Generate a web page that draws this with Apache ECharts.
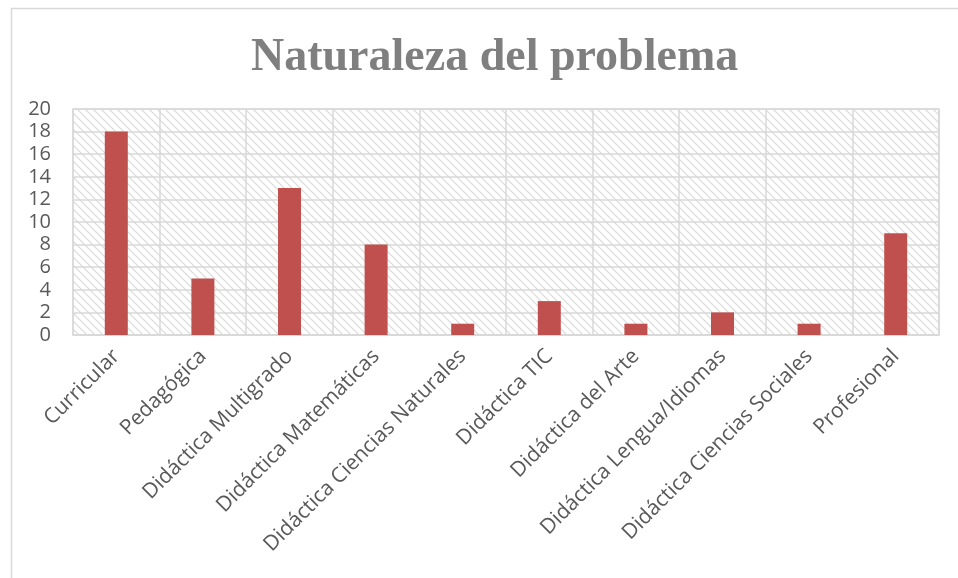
<!DOCTYPE html>
<html><head><meta charset="utf-8">
<script src="https://cdn.jsdelivr.net/npm/echarts@6/dist/echarts.min.js"></script>
<style>html,body{margin:0;padding:0;background:#fff}#c{width:958px;height:578px}</style>
</head><body><div id="c"></div>
<script>
const categories = ["Curricular","Pedagógica","Didáctica Multigrado","Didáctica Matemáticas","Didáctica Ciencias Naturales","Didáctica TIC","Didáctica del Arte","Didáctica Lengua/Idiomas","Didáctica Ciencias Sociales","Profesional"];
const values = [18,5,13,8,1,3,1,2,1,9];
const titleText = "Naturaleza del problema";

const pc = document.createElement('canvas');
pc.width = 8; pc.height = 8;
const g = pc.getContext('2d');
g.fillStyle = '#ffffff'; g.fillRect(0,0,8,8);
g.strokeStyle = '#d9d9d9'; g.lineWidth = 1.2;
g.beginPath();
g.moveTo(-1,-1); g.lineTo(9,9);
g.moveTo(-5,3); g.lineTo(5,13);
g.moveTo(3,-5); g.lineTo(13,5);
g.stroke();

const chart = echarts.init(document.getElementById('c'));
chart.setOption({
  animation: false,
  title: {text: titleText, left: 246, top: 30,
    textStyle: {fontFamily: 'Liberation Serif', fontWeight: 'bold', fontSize: 46, color: '#7f7f7f'}},
  graphic: [{type: 'rect', left: 9, top: 6, shape: {width: 948, height: 580},
    style: {fill: 'none', stroke: '#d9d9d9', lineWidth: 1.5}, silent: true}],
  grid: {left: 73, right: 19, top: 109, bottom: 243, show: true,
    backgroundColor: {image: pc, repeat: 'repeat'}, borderColor: '#d9d9d9', borderWidth: 1.5},
  xAxis: {type: 'category', data: categories,
    axisLine: {show: true, lineStyle: {color: '#d9d9d9', width: 1.5}},
    axisTick: {show: false},
    splitLine: {show: true, lineStyle: {color: '#d9d9d9', width: 1.5}},
    axisLabel: {rotate: 45, interval: 0, fontFamily: 'Open Sans', fontSize: 21, color: '#595959', margin: 18}},
  yAxis: {type: 'value', min: 0, max: 20, interval: 2,
    axisLine: {show: false}, axisTick: {show: false},
    splitLine: {show: true, lineStyle: {color: '#d9d9d9', width: 1.5}},
    axisLabel: {fontFamily: 'Open Sans', fontSize: 20, color: '#595959', margin: 22}},
  series: [{type: 'bar', data: values, barWidth: 23, itemStyle: {color: '#c0504d'}}]
});
</script></body></html>
